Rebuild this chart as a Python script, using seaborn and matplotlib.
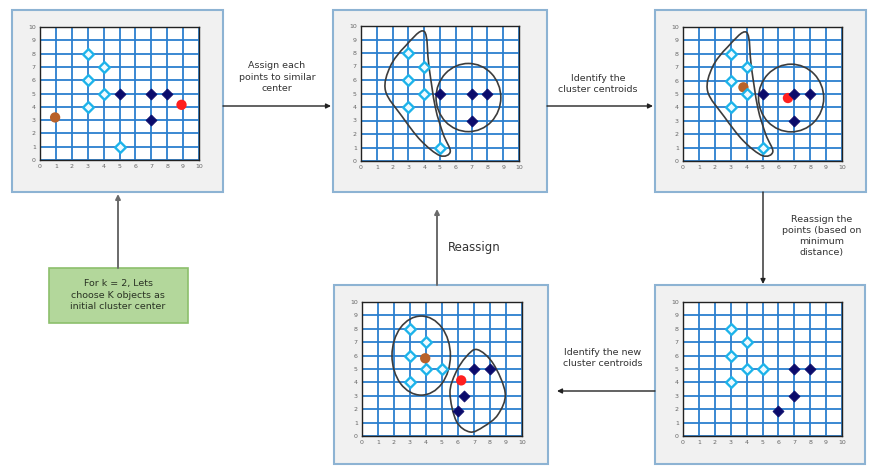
import numpy as np
import pandas as pd
import matplotlib.pyplot as plt
import seaborn as sns
from matplotlib.patches import Rectangle, Ellipse, PathPatch
from matplotlib.path import Path

sns.set_style("white")
plt.rcParams['font.family'] = ['DejaVu Sans']

# --- data ---
ticks = list(range(11))

p1_cyan_x = [3, 4, 3, 4, 3, 5]
p1_cyan_y = [8, 7, 6, 5, 4, 1]
p1_navy_x = [5, 7, 8, 7]
p1_navy_y = [5, 5, 5, 3]
p1_brown = (0.95, 3.2)
p1_red = (8.9, 4.15)

p3_brown = (3.8, 5.5)
p3_red = (6.6, 4.7)

p4_cyan_x = [3, 4, 3, 4, 5, 3]
p4_cyan_y = [8, 7, 6, 5, 5, 4]
p4_navy_x = [7, 8, 7, 6]
p4_navy_y = [5, 5, 3, 1.85]

p5_navy_x = [7, 8, 6.4, 6]
p5_navy_y = [5, 5, 3, 1.85]
p5_brown = (3.95, 5.8)
p5_red = (6.2, 4.15)

# cluster outlines
left_blob_x = [4.0, 4.3, 4.7, 5.2, 5.65, 5.0, 3.8, 2.6, 1.55, 1.85, 2.8]
left_blob_y = [9.6, 7.0, 4.0, 2.0, 0.7, 0.4, 1.5, 3.3, 5.2, 7.0, 8.5]
right_circle = (6.8, 4.7, 4.1, 5.05)   # cx, cy, w, h
p5_ellipse = (3.7, 6.0, 3.65, 5.9)
p5_blob_x = [7.2, 8.2, 8.95, 8.5, 7.6, 6.75, 5.9, 5.5, 5.85, 6.5]
p5_blob_y = [6.45, 5.4, 3.2, 1.6, 0.7, 0.3, 1.1, 3.2, 4.7, 5.9]

W, H = 869, 466
fig = plt.figure(figsize=(W / 100, H / 100), dpi=100)
fig.patch.set_facecolor('white')
bg = fig.add_axes([0, 0, 1, 1])
bg.set_xlim(0, W)
bg.set_ylim(H, 0)
bg.axis('off')

GRID = '#2b7fcf'
CYAN_EDGE = '#1db3ea'
NAVY = '#0b0b6b'
BROWN = '#b8612a'
RED = '#ff1f1f'
LINE = '#3c3c3c'
TXT = '#333333'


def px_axes(x0, y0, x1, y1):
    return fig.add_axes([x0 / W, 1 - y1 / H, (x1 - x0) / W, (y1 - y0) / H])


def blob(ax, xs, ys):
    P = np.column_stack([xs, ys])
    n = len(P)
    verts = [P[0]]
    codes = [Path.MOVETO]
    for i in range(n):
        p0, p1, p2, p3 = P[i - 1], P[i], P[(i + 1) % n], P[(i + 2) % n]
        verts += [p1 + (p2 - p0) / 6, p2 - (p3 - p1) / 6, p2]
        codes += [Path.CURVE4] * 3
    ax.add_patch(PathPatch(Path(verts, codes), fill=False, ec=LINE, lw=1.2, zorder=3))


def ellipse(ax, e):
    ax.add_patch(Ellipse((e[0], e[1]), e[2], e[3], fill=False, ec=LINE, lw=1.2, zorder=3))


def panel(frame, axbox, cx, cy, nx, ny, brown=None, red=None):
    x0, y0, x1, y1 = frame
    bg.add_patch(Rectangle((x0, y0), x1 - x0, y1 - y0, fc='#f1f1f1', ec='#8db3d3', lw=1.5))
    ax = px_axes(*axbox)
    ax.set_facecolor('white')
    if brown is not None:
        c = pd.DataFrame({'x': [brown[0], red[0]], 'y': [brown[1], red[1]], 'k': ['b', 'r']})
        sns.scatterplot(data=c, x='x', y='y', hue='k', palette={'b': BROWN, 'r': RED},
                        s=55, marker='o', linewidth=0, legend=False, ax=ax, zorder=4)
    dc = pd.DataFrame({'x': cx, 'y': cy})
    sns.scatterplot(data=dc, x='x', y='y', marker='D', s=30, color='#eefaff',
                    edgecolor=CYAN_EDGE, linewidth=1.7, ax=ax, zorder=5)
    dn = pd.DataFrame({'x': nx, 'y': ny})
    sns.scatterplot(data=dn, x='x', y='y', marker='D', s=32, color=NAVY,
                    edgecolor=NAVY, linewidth=0.5, ax=ax, zorder=5)
    ax.set_xlim(0, 10)
    ax.set_ylim(0, 10)
    ax.set_xticks(ticks)
    ax.set_yticks(ticks)
    ax.grid(True, color=GRID, lw=1.3)
    ax.set_axisbelow(True)
    ax.tick_params(length=0, labelsize=4.5, labelcolor='#666666', pad=3)
    ax.set_xlabel('')
    ax.set_ylabel('')
    for s in ax.spines.values():
        s.set_color('#222222')
        s.set_linewidth(1.0)
    return ax


ax1 = panel((12, 10, 223, 192), (40, 27, 199, 160), p1_cyan_x, p1_cyan_y,
            p1_navy_x, p1_navy_y, p1_brown, p1_red)
ax2 = panel((333, 10, 547, 192), (361, 26, 519, 161), p1_cyan_x, p1_cyan_y,
            p1_navy_x, p1_navy_y)
blob(ax2, left_blob_x, left_blob_y)
ellipse(ax2, right_circle)
ax3 = panel((655, 10, 866, 192), (683, 27, 842, 161), p1_cyan_x, p1_cyan_y,
            p1_navy_x, p1_navy_y, p3_brown, p3_red)
blob(ax3, left_blob_x, left_blob_y)
ellipse(ax3, right_circle)
ax4 = panel((655, 285, 865, 464), (683, 302, 842, 436), p4_cyan_x, p4_cyan_y,
            p4_navy_x, p4_navy_y)
ax5 = panel((334, 285, 548, 464), (362, 302, 522, 436), p4_cyan_x, p4_cyan_y,
            p5_navy_x, p5_navy_y, p5_brown, p5_red)
ellipse(ax5, p5_ellipse)
blob(ax5, p5_blob_x, p5_blob_y)

# green start box
bg.add_patch(Rectangle((49, 268), 139, 55, fc='#b3d79b', ec='#8cbf6c', lw=1.2))
bg.text(118, 295, 'For k = 2, Lets\nchoose K objects as\ninitial cluster center',
        ha='center', va='center', fontsize=6.8, color='#2a3324', linespacing=1.3)


def arrow(start, tip, color='#222222', lw=1.0):
    bg.annotate('', xy=tip, xytext=start,
                arrowprops=dict(arrowstyle='-|>', color=color, lw=lw,
                                mutation_scale=7, shrinkA=0, shrinkB=0))


arrow((118, 268), (118, 194), color='#6a6a6a', lw=1.4)
arrow((223, 106), (331, 106))
arrow((547, 106), (653, 106))
arrow((763, 192), (763, 284))
arrow((655, 391), (557, 391))
arrow((437, 285), (437, 209), color='#6a6a6a', lw=1.4)

bg.text(277, 77, 'Assign each\npoints to similar\ncenter', ha='center', va='center',
        fontsize=6.8, color=TXT, linespacing=1.3)
bg.text(598, 84, 'Identify the\ncluster centroids', ha='center', va='center',
        fontsize=6.8, color=TXT, linespacing=1.3)
bg.text(822, 236, 'Reassign the\npoints (based on\nminimum\ndistance)', ha='center',
        va='center', fontsize=6.8, color=TXT, linespacing=1.3)
bg.text(603, 358, 'Identify the new\ncluster centroids', ha='center', va='center',
        fontsize=6.8, color=TXT, linespacing=1.3)
bg.text(448, 248, 'Reassign', ha='left', va='center', fontsize=8.5, color=TXT)

plt.savefig('out.png', dpi=100)
